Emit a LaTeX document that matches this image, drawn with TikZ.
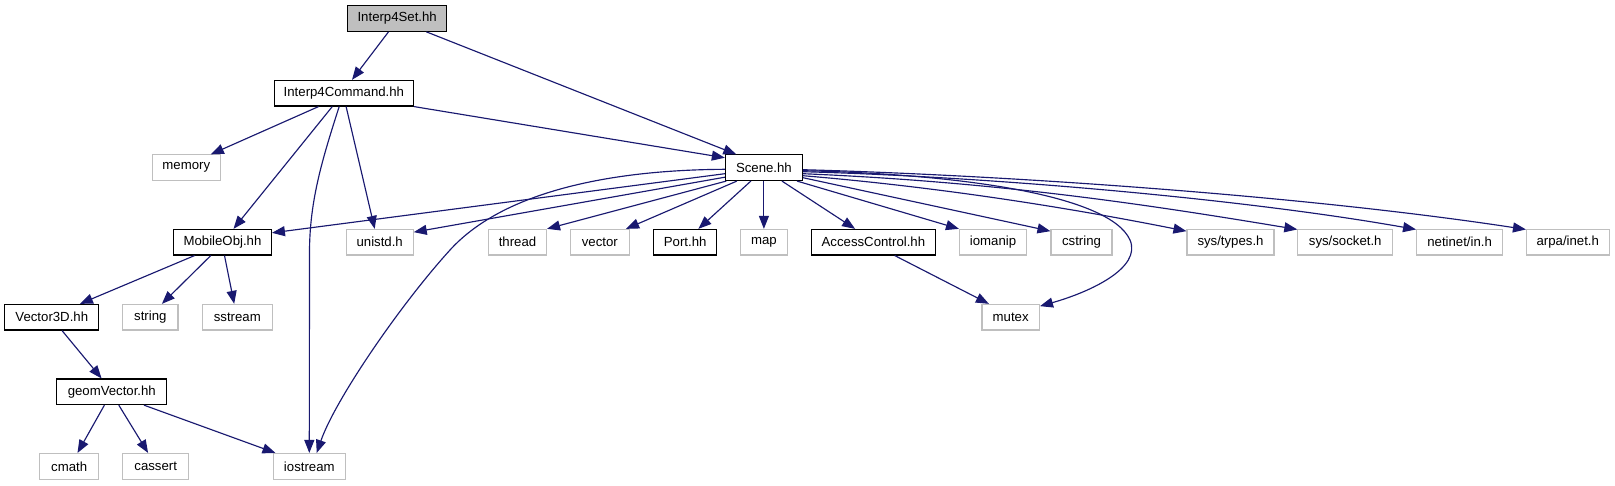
\documentclass[tikz,border=0pt]{standalone}
\usepackage{fontspec}
\setmainfont{Liberation Sans}
\usetikzlibrary{calc,arrows.meta}
\definecolor{edgeblue}{HTML}{191970}
\definecolor{sysgrey}{HTML}{BFBFBF}
\begin{document}
\begin{tikzpicture}[x=1pt,y=-1pt,
  box/.style={draw=black, line width=1.1pt, minimum height=25.6pt, inner sep=0pt, font=\fontsize{13.2}{14}\selectfont, text=black},
  sysbox/.style={box, draw=sysgrey},
  rootbox/.style={box, fill=sysgrey},
  dep/.style={draw=edgeblue, line width=1.15pt, -{Triangle[length=13pt,width=10pt]}},
]
\useasboundingbox (0,0) rectangle (1615,485);

% row 0
\node[rootbox, minimum width=99pt] (set) at (397.2,18.5) {Interp4Set.hh};
% row 1
\node[box, minimum width=138.8pt] (cmd) at (343.9,93.2) {Interp4Command.hh};
% row 2
\node[sysbox, minimum width=68pt] (memory) at (186.3,167.7) {memory};
\node[box, minimum width=77pt] (scene) at (763.9,167.7) {Scene.hh};
% row 3
\node[box, minimum width=97.8pt] (mobile) at (222.5,242.2) {MobileObj.hh};
\node[sysbox, minimum width=67pt] (unistd) at (379.7,242.2) {unistd.h};
\node[sysbox, minimum width=58pt] (thread) at (517.5,242.2) {thread};
\node[sysbox, minimum width=59pt] (vector) at (599.8,242.2) {vector};
\node[box, minimum width=63pt] (port) at (685.2,242.2) {Port.hh};
\node[sysbox, minimum width=47pt] (map) at (763.9,242.2) {map};
\node[box, minimum width=124pt] (access) at (873.4,242.2) {AccessControl.hh};
\node[sysbox, minimum width=67pt] (iomanip) at (993,242.2) {iomanip};
\node[sysbox, minimum width=61pt] (cstring) at (1081.5,242.2) {cstring};
\node[sysbox, minimum width=87pt] (systypes) at (1230.5,242.2) {sys/types.h};
\node[sysbox, minimum width=94.7pt] (syssocket) at (1345.2,242.2) {sys/socket.h};
\node[sysbox, minimum width=86pt] (netinet) at (1459.6,242.2) {netinet/in.h};
\node[sysbox, minimum width=82.6pt] (arpa) at (1567.8,242.2) {arpa/inet.h};
% row 4
\node[box, minimum width=94pt] (vec3d) at (51.8,317.2) {Vector3D.hh};
\node[sysbox, minimum width=55.4pt] (string) at (150.3,317.2) {string};
\node[sysbox, minimum width=69.6pt] (sstream) at (237.3,317.2) {sstream};
\node[sysbox, minimum width=57.5pt] (mutex) at (1010.7,317.2) {mutex};
% row 5
\node[box, minimum width=110pt] (geom) at (111.8,391.8) {geomVector.hh};
% row 6
\node[sysbox, minimum width=59.2pt] (cmath) at (69.2,466.3) {cmath};
\node[sysbox, minimum width=66pt] (cassert) at (155.7,466.3) {cassert};
\node[sysbox, minimum width=72.3pt] (iostream) at (309.3,466.3) {iostream};

% Interp4Set
\draw[dep] ($(set.south)+(-8.7,0)$) -- ($(cmd.north)+(8.1,0)$);
\draw[dep] ($(set.south)+(29.2,0)$) -- ($(scene.north)+(-27.6,0)$);
% Interp4Command
\draw[dep] ($(cmd.south)+(-25.3,0)$) -- ($(memory.north)+(24.5,0)$);
\draw[dep] ($(cmd.south)+(-11.6,0)$) -- ($(mobile.north)+(11,0)$);
\draw[dep] ($(cmd.south)+(-4.7,0)$) .. controls (322,160) and (310,200) .. (309.5,250) -- (iostream.north);
\draw[dep] ($(cmd.south)+(2.2,0)$) -- ($(unistd.north)+(-5,0)$);
\draw[dep] (cmd.south east) -- ($(scene.north west)+(0,3.4)$);
% MobileObj
\draw[dep] ($(mobile.south)+(-27.9,0)$) -- ($(vec3d.north)+(28.1,0)$);
\draw[dep] ($(mobile.south)+(-11.7,0)$) -- ($(string.north)+(11.6,0)$);
\draw[dep] ($(mobile.south)+(2,0)$) -- ($(sstream.north)+(-3.1,0)$);
% Vector3D
\draw[dep] ($(vec3d.south)+(10.2,0)$) -- ($(geom.north)+(-10.2,0)$);
% geomVector
\draw[dep] ($(geom.south)+(-7.4,0)$) -- ($(cmath.north)+(8.3,0)$);
\draw[dep] ($(geom.south)+(7,0)$) -- ($(cassert.north)+(-7.6,0)$);
\draw[dep] ($(geom.south)+(32.2,0)$) -- ($(iostream.north)+(-33.8,0)$);
% Scene
\draw[dep] ($(scene.west)+(0,6)$) -- ($(mobile.north east)+(0,4)$);
\draw[dep] ($(scene.west)+(0,9.5)$) -- ($(unistd.north east)+(0,3.3)$);
\draw[dep] ($(scene.west)+(0,1.6)$) .. controls (600,170) and (500,195) .. (450,250)
   .. controls (400,305) and (335,400) .. ($(iostream.north)+(7.4,0)$);
\draw[dep] ($(scene.south west)+(1.5,0)$) -- (thread.north east);
\draw[dep] ($(scene.south)+(-27,0)$) -- ($(vector.north)+(26.3,0)$);
\draw[dep] ($(scene.south)+(-13,0)$) -- ($(port.north)+(13.2,0)$);
\draw[dep] (scene.south) -- (map.north);
\draw[dep] ($(scene.south)+(18,0)$) -- ($(access.north)+(-18.3,0)$);
\draw[dep] ($(scene.south east)+(-6,0)$) -- (iomanip.north west);
\draw[dep] ($(scene.east)+(0,10)$) -- ($(cstring.north west)+(0,2.3)$);
\draw[dep] ($(scene.east)+(0,8)$) .. controls (950,188) and (1080,210) .. ($(systypes.north west)+(0,2.3)$);
\draw[dep] ($(scene.east)+(0,6)$) .. controls (1000,182) and (1150,205) .. ($(syssocket.north west)+(0,0.6)$);
\draw[dep] ($(scene.east)+(0,4)$) .. controls (1000,177) and (1250,200) .. ($(netinet.north west)+(0,0.6)$);
\draw[dep] ($(scene.east)+(0,2)$) .. controls (1000,175) and (1300,195) .. ($(arpa.north west)+(0,0.6)$);
\draw[dep] ($(scene.east)+(0,3)$) .. controls (960,174) and (1110,195) .. (1130,240)
   .. controls (1142,268) and (1090,292) .. ($(mutex.north east)+(0,2.3)$);
% AccessControl
\draw[dep] ($(access.south)+(21.3,0)$) -- ($(mutex.north west)+(7.5,0)$);
\end{tikzpicture}
\end{document}
